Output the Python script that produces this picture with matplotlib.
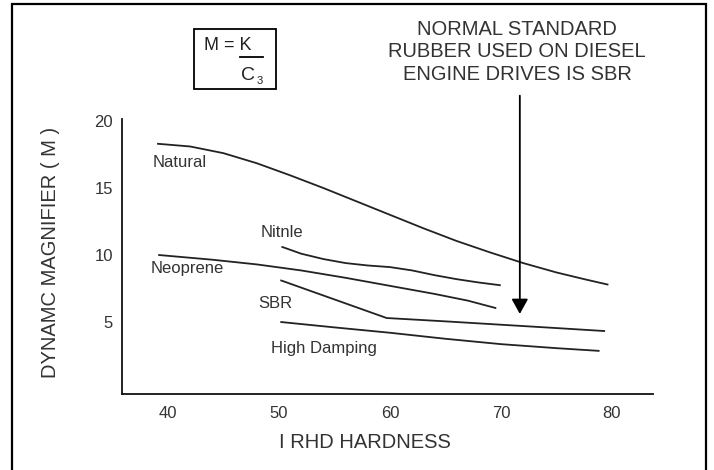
import numpy as np
import matplotlib.pyplot as plt
from matplotlib.patches import Rectangle
from matplotlib.lines import Line2D

plt.rcParams['font.family'] = ['Liberation Sans', 'DejaVu Sans']

# curvas: dureza IRHD vs magnificador dinamico M
natural_x = [39.1, 42, 45, 48, 51, 54, 57, 60, 63, 66, 69, 72, 75, 77.5, 79.6]
natural_y = [18.3, 18.1, 17.6, 16.85, 15.95, 15.0, 14.0, 13.0, 12.0, 11.05, 10.2, 9.4, 8.7, 8.2, 7.8]

nitnle_x = [50.3, 52, 54, 56, 58, 60, 62, 64, 66, 68, 69.9]
nitnle_y = [10.6, 10.1, 9.7, 9.4, 9.22, 9.1, 8.85, 8.5, 8.2, 7.95, 7.75]

neoprene_x = [39.2, 44, 48, 52, 56, 60, 64, 67, 69.5]
neoprene_y = [10.0, 9.65, 9.3, 8.85, 8.3, 7.7, 7.1, 6.6, 6.05]

sbr_x = [50.2, 59.7, 65, 70, 75, 79.3]
sbr_y = [8.1, 5.3, 5.05, 4.8, 4.55, 4.33]

hd_x = [50.2, 55, 60, 65, 70, 75, 78.8]
hd_y = [5.0, 4.6, 4.2, 3.75, 3.35, 3.05, 2.85]

x_ticks = [40, 50, 60, 70, 80]
y_ticks = [5, 10, 15, 20]

fig = plt.figure(figsize=(7.14, 4.70), dpi=100)
ax = fig.add_axes([0.1709, 0.1617, 0.7437, 0.5851])

for xs, ys in [(natural_x, natural_y), (nitnle_x, nitnle_y), (neoprene_x, neoprene_y),
               (sbr_x, sbr_y), (hd_x, hd_y)]:
    ax.plot(xs, ys, color='#222222', lw=1.3, solid_joinstyle='round')

ax.set_xlim(35.86, 83.7)
ax.set_ylim(-0.37, 20.15)
ax.set_xticks(x_ticks)
ax.set_yticks(y_ticks)
ax.tick_params(axis='x', length=0, pad=8.5, labelsize=12, colors='#333333')
ax.tick_params(axis='y', length=0, pad=6.5, labelsize=12, colors='#333333')
for s in ['top', 'right']:
    ax.spines[s].set_visible(False)
for s in ['left', 'bottom']:
    ax.spines[s].set_linewidth(1.3)
    ax.spines[s].set_color('#111111')

# etiquetas de las curvas
lab = dict(fontsize=12, color='#333333', va='center')
ax.text(41.1, 16.9, 'Natural', ha='center', **lab)
ax.text(50.3, 11.7, 'Nitnle', ha='center', **lab)
ax.text(41.7, 9.0, 'Neoprene', ha='center', **lab)
ax.text(49.7, 6.4, 'SBR', ha='center', **lab)
ax.text(49.3, 3.06, 'High Damping', ha='left', **lab)

# flecha SBR
ax.annotate('', xy=(71.7, 5.4), xytext=(71.7, 22.1), annotation_clip=False,
            arrowprops=dict(arrowstyle='-|>,head_width=0.25,head_length=0.45',
                            mutation_scale=20, color='black', lw=1.3))
fig.text(517 / 714, 1 - 52 / 470,
         'NORMAL STANDARD\nRUBBER USED ON DIESEL\nENGINE DRIVES IS SBR',
         ha='center', va='center', fontsize=14.5, color='#333333', linespacing=1.22)

# titulos de ejes
fig.text(51 / 714, 1 - 252 / 470, 'DYNAMC MAGNIFIER ( M )', rotation=90,
         ha='center', va='center', fontsize=14.5, color='#333333')
fig.text(365 / 714, 1 - 442 / 470, 'I RHD HARDNESS', ha='center', va='center',
         fontsize=14.5, color='#333333')

# formula en recuadro
fig.patches.append(Rectangle((194 / 714, 1 - 89 / 470), 82 / 714, 60 / 470,
                             transform=fig.transFigure, fill=False, lw=1.3, ec='black'))
fig.text(204 / 714, 1 - 50 / 470, 'M = K', ha='left', va='baseline', fontsize=13, color='#222222')
fig.lines.append(Line2D([240 / 714, 263 / 714], [1 - 57 / 470, 1 - 57 / 470],
                        transform=fig.transFigure, color='black', lw=1.3))
fig.text(241 / 714, 1 - 80 / 470, 'C', ha='left', va='baseline', fontsize=14, color='#222222')
fig.text(257 / 714, 1 - 84 / 470, '3', ha='left', va='baseline', fontsize=8, color='#222222')

# marco exterior
fig.patches.append(Rectangle((12 / 714, -0.01), 694 / 714, 1 - 4 / 470 + 0.01,
                             transform=fig.transFigure, fill=False, lw=1.6, ec='black'))

fig.savefig('out.png', dpi=100)
